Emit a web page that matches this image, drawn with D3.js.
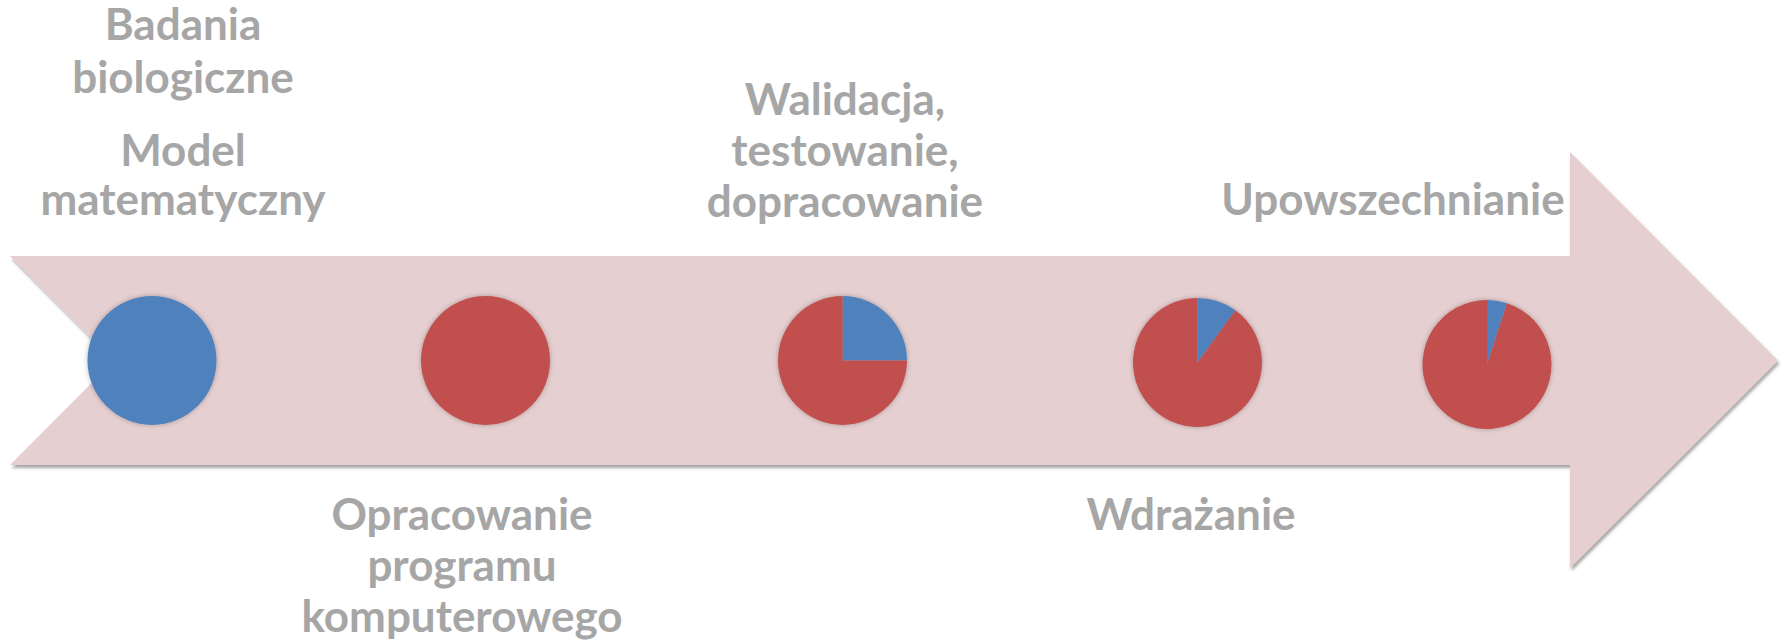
<!DOCTYPE html>
<html>
<head>
<meta charset="utf-8">
<script src="https://cdn.jsdelivr.net/npm/d3@7"></script>
<style>
  html, body { margin: 0; padding: 0; background: #ffffff; }
  svg { display: block; }
</style>
</head>
<body>
<svg id="chart" width="1787" height="642"></svg>
<script>
// ---------- data ----------
const stages = ["Etap 1", "Etap 2", "Etap 3", "Etap 4", "Etap 5"];
const blueShare = [1.00, 0.00, 0.25, 0.10, 0.05];
const redShare  = [0.00, 1.00, 0.75, 0.90, 0.95];
const seriesColors = ["#4F81BD", "#C0504D"];

const labelTexts = [
  ["Badania", "biologiczne"],
  ["Model", "matematyczny"],
  ["Opracowanie", "programu", "komputerowego"],
  ["Walidacja,", "testowanie,", "dopracowanie"],
  ["Wdrażanie"],
  ["Upowszechnianie"]
];

// ---------- layout ----------
const W = 1787, H = 642;
const pieX = [152, 485.5, 842.5, 1197.5, 1487];
const pieY = [360.5, 360.5, 360.5, 362.5, 364.5];
const pieR = 64.5;
const labelX = [183, 183, 462, 845, 1191, 1393];
const labelBaselines = [
  [40, 93],
  [166, 215],
  [530, 581, 632],
  [115, 166, 217],
  [530],
  [215]
];

const svg = d3.select("#chart");
const defs = svg.append("defs");

const arrowShadow = defs.append("filter").attr("id", "arrowShadow")
  .attr("x", "-5%").attr("y", "-10%").attr("width", "110%").attr("height", "125%");
arrowShadow.append("feDropShadow")
  .attr("dx", 1.5).attr("dy", 3).attr("stdDeviation", 1.8)
  .attr("flood-color", "#000").attr("flood-opacity", 0.35);

const pieShadow = defs.append("filter").attr("id", "pieShadow")
  .attr("x", "-20%").attr("y", "-20%").attr("width", "140%").attr("height", "140%");
pieShadow.append("feDropShadow")
  .attr("dx", 0).attr("dy", 0).attr("stdDeviation", 2.5)
  .attr("flood-color", "#000").attr("flood-opacity", 0.28);

// ---------- arrow ----------
const shaftTop = 256, shaftBot = 465, midY = 360.5;
const leftX = 10, notchX = 114, headX = 1570, headTop = 152, headBot = 568, tipX = 1778;
const arrowPts = [
  [leftX, shaftTop], [headX, shaftTop], [headX, headTop], [tipX, midY],
  [headX, headBot], [headX, shaftBot], [leftX, shaftBot], [notchX, midY]
];
svg.append("path")
  .attr("d", d3.line()(arrowPts) + "Z")
  .attr("fill", "#E6CFD0")
  .attr("filter", "url(#arrowShadow)");

// ---------- pies ----------
const pie = d3.pie().sort(null).startAngle(0).endAngle(2 * Math.PI).value(d => d.v);
const arc = d3.arc().innerRadius(0).outerRadius(pieR);

stages.forEach((s, i) => {
  const vals = [{k: "blue", v: blueShare[i], c: seriesColors[0]},
                {k: "red",  v: redShare[i],  c: seriesColors[1]}];
  const g = svg.append("g")
    .attr("transform", `translate(${pieX[i]},${pieY[i]})`)
    .attr("filter", "url(#pieShadow)");
  g.selectAll("path")
    .data(pie(vals).filter(d => d.data.v > 0))
    .join("path")
    .attr("d", arc)
    .attr("fill", d => d.data.c);
});

// ---------- labels ----------
labelTexts.forEach((lines, i) => {
  const t = svg.append("text")
    .attr("text-anchor", "middle")
    .attr("font-family", "Lato, 'Open Sans', sans-serif")
    .attr("font-weight", 700)
    .attr("font-size", 44)
    .attr("fill", "#A6A6A6");
  lines.forEach((ln, j) => {
    t.append("tspan")
      .attr("x", labelX[i])
      .attr("y", labelBaselines[i][j])
      .text(ln);
  });
});
</script>
</body>
</html>
